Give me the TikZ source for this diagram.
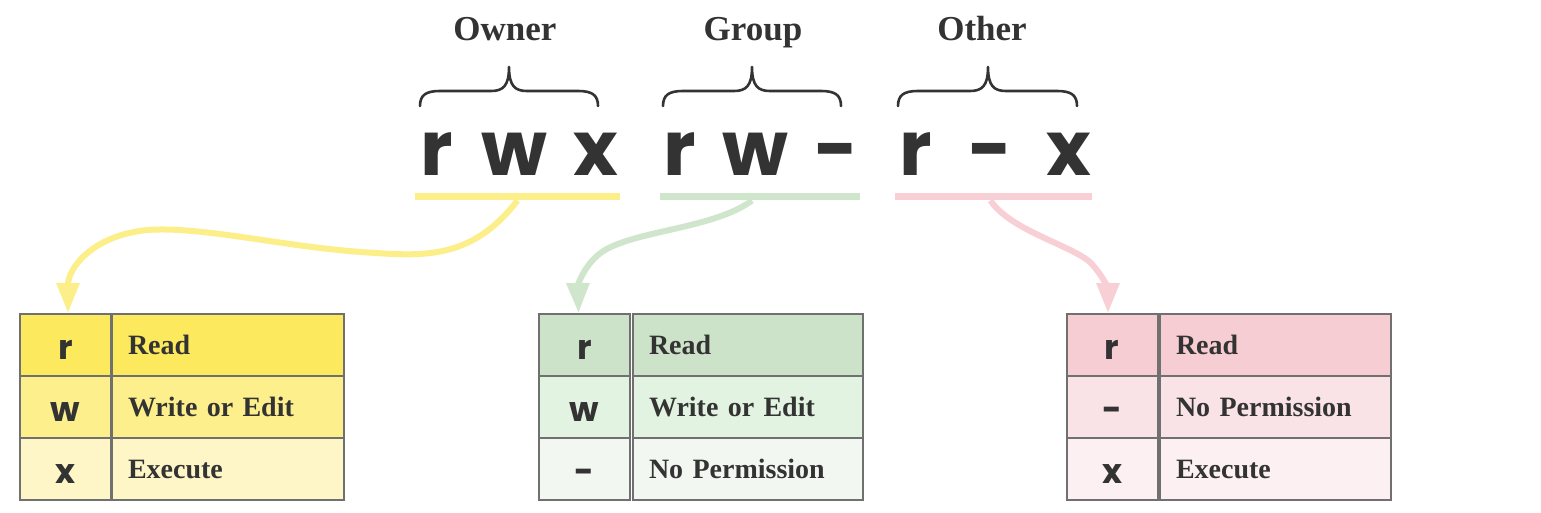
\documentclass[tikz,border=0pt]{standalone}
\usepackage{fontspec}
\setmainfont{Liberation Serif}
\newfontfamily\rnd{Poppins}
\usetikzlibrary{arrows.meta}
\definecolor{ink}{HTML}{333333}
\definecolor{bord}{HTML}{707070}
\definecolor{yA}{HTML}{FCE95E}
\definecolor{yB}{HTML}{FDEF8C}
\definecolor{yC}{HTML}{FEF6C6}
\definecolor{gA}{HTML}{CCE3CA}
\definecolor{gB}{HTML}{E3F3E2}
\definecolor{gC}{HTML}{F2F8F1}
\definecolor{pA}{HTML}{F6CDD3}
\definecolor{pB}{HTML}{F9E3E6}
\definecolor{pC}{HTML}{FCF0F2}
\definecolor{yL}{HTML}{FCEF8A}
\definecolor{gL}{HTML}{D0E6CC}
\definecolor{pL}{HTML}{F7CFD5}
\tikzset{
  x=1pt,y=-1pt,
  head/.style={font=\fontsize{35}{40}\selectfont\bfseries, text=ink, anchor=base, inner sep=0},
  big/.style={font=\rnd\bfseries\fontsize{76}{80}\selectfont, text=ink, anchor=base, inner sep=0},
  brc/.style={draw=ink, line width=2.6pt, line cap=round, line join=round},
  uline/.style={minimum width=#1, minimum height=7, inner sep=0, outer sep=0},
  keycell/.style={draw=bord, line width=2pt, minimum width=91, minimum height=62, inner sep=0,
    font=\rnd\bfseries\fontsize{34}{38}\selectfont, text=ink, text height=29, text depth=0},
  desccell/.style={draw=bord, line width=2pt, minimum width=#1, minimum height=62, inner xsep=16, inner ysep=0,
    text width=#1-32, align=left, font=\fontsize{28}{32}\selectfont\bfseries, text=ink, text height=18.5, text depth=0},
  conn/.style={line width=6pt, -{Triangle[length=30pt,width=22pt]}},
}
\begin{document}
\begin{tikzpicture}
\useasboundingbox[fill=white] (0,0) rectangle (1541,513);
% headers
\node[head] (hO) at (505,41) {Owner};
\node[head] (hG) at (753,41) {Group};
\node[head] (hT) at (982,41) {Other};
% braces
\foreach \a/\m/\b in {420/509/598, 663/752/841, 898/988/1077}{
  \draw[brc] (\a,106) .. controls (\a,95) and (\a+6,91) .. (\a+20,91) -- (\m-18,91)
    .. controls (\m-6,91) and (\m,86) .. (\m,67)
    .. controls (\m,86) and (\m+6,91) .. (\m+18,91) -- (\b-20,91)
    .. controls (\b-6,91) and (\b,95) .. (\b,106);
}
% permission letters
\node[big] (o1) at (437,176) {r};
\node[big] (o2) at (514,176) {w};
\node[big] (o3) at (596,176) {x};
\node[big] (g1) at (680,176) {r};
\node[big] (g2) at (755,176) {w};
\node[big] (g3) at (837,176) {-};
\node[big] (t1) at (916,176) {r};
\node[big] (t2) at (991,176) {-};
\node[big] (t3) at (1069,176) {x};
% underlines
\node[uline=205, fill=yL] (uO) at (517.5,197) {};
\node[uline=200, fill=gL] (uG) at (760,197) {};
\node[uline=197, fill=pL] (uT) at (993.5,197) {};
% owner table
\node[keycell, fill=yA] (oa) at (65.5,345) {r};
\node[desccell=232, fill=yA, anchor=west] (ob) at (111,345) {Read};
\node[keycell, fill=yB] (oc) at (65.5,407) {w};
\node[desccell=232, fill=yB, anchor=west] (od) at (111,407) {Write or Edit};
\node[keycell, fill=yC] (oe) at (65.5,469) {x};
\node[desccell=232, fill=yC, anchor=west] (of) at (111,469) {Execute};
% group table
\node[keycell, fill=gA] (ga) at (584.5,345) {r};
\node[desccell=230, fill=gA, anchor=west] (gb) at (632,345) {Read};
\node[keycell, fill=gB] (gc) at (584.5,407) {w};
\node[desccell=230, fill=gB, anchor=west] (gd) at (632,407) {Write or Edit};
\node[keycell, fill=gC] (ge) at (584.5,469) {-};
\node[desccell=230, fill=gC, anchor=west] (gf) at (632,469) {No Permission};
% other table
\node[keycell, fill=pA] (ta) at (1112,345) {r};
\node[desccell=231, fill=pA, anchor=west] (tb) at (1159,345) {Read};
\node[keycell, fill=pB] (tc) at (1112,407) {-};
\node[desccell=231, fill=pB, anchor=west] (td) at (1159,407) {No Permission};
\node[keycell, fill=pC] (te) at (1112,469) {x};
\node[desccell=231, fill=pC, anchor=west] (tf) at (1159,469) {Execute};
% connectors
\draw[conn, draw=yL] (uO.south) .. controls (470,262) and (420,256) .. (361,252)
   .. controls (280,246) and (200,226) .. (147,230)
   .. controls (90,236) and (68,270) .. ([xshift=2.5]oa.north);
\draw[conn, draw=gL] ([xshift=-8]uG.south) .. controls (715,228) and (640,230) .. (605,250)
   .. controls (585,262) and (578,285) .. ([xshift=-6]ga.north);
\draw[conn, draw=pL] ([xshift=-3]uT.south) .. controls (1010,230) and (1070,245) .. (1090,262)
   .. controls (1104,277) and (1108,290) .. ([xshift=-4]ta.north);
\end{tikzpicture}
\end{document}
